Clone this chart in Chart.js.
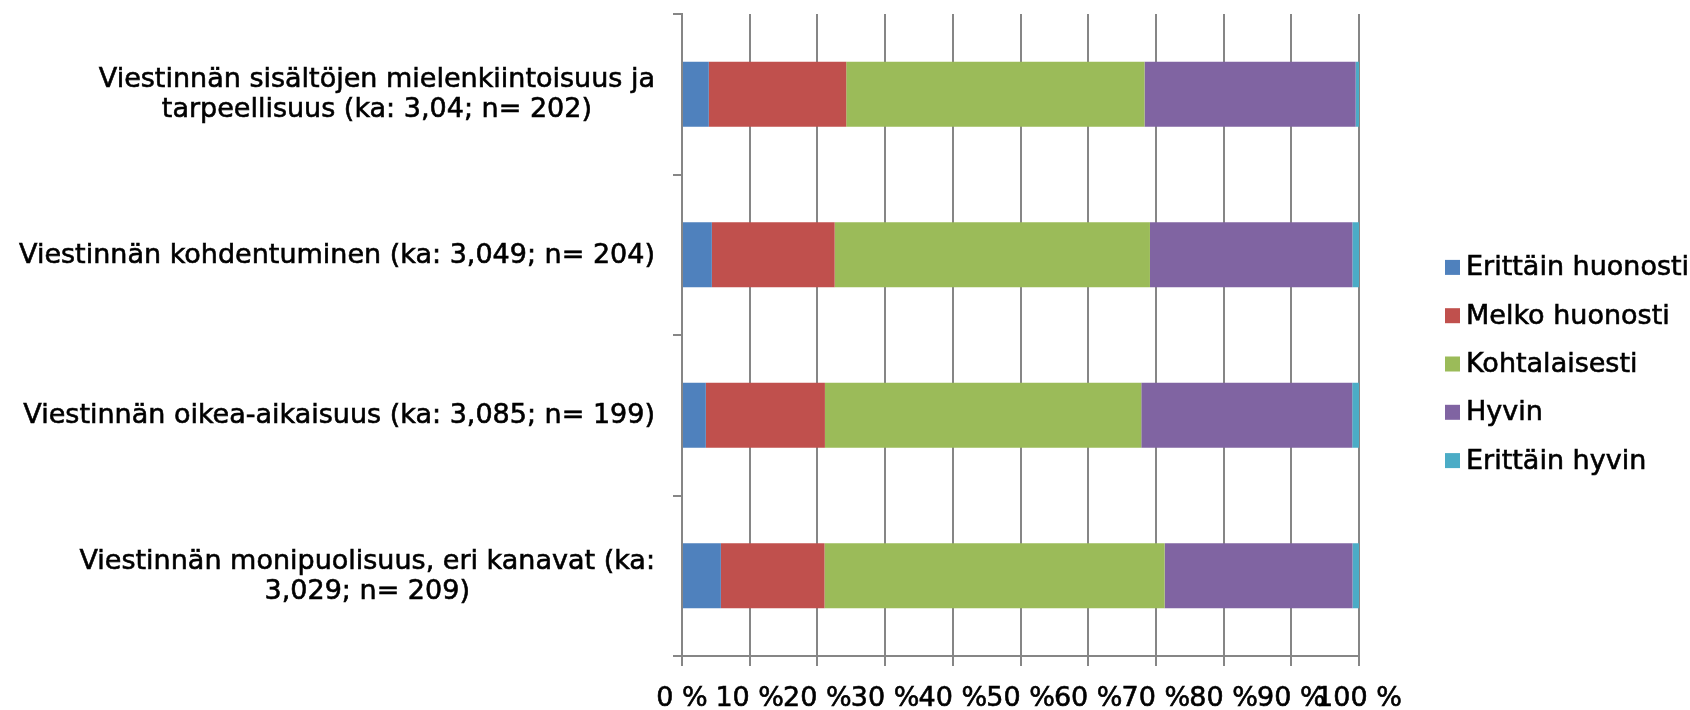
<!DOCTYPE html>
<html>
<head>
<meta charset="utf-8">
<script src="https://cdn.jsdelivr.net/npm/chart.js@4.4.0/dist/chart.umd.min.js"></script>
<style>
  html, body { margin: 0; padding: 0; background: #ffffff; }
  #wrap { width: 1690px; height: 710px; position: relative; }
</style>
</head>
<body>
<div id="wrap"><canvas id="c" width="1690" height="710"></canvas></div>
<script>
// ---- data ----
const categories = [
  ['Viestinnän sisältöjen mielenkiintoisuus ja', 'tarpeellisuus (ka: 3,04; n= 202)'],
  ['Viestinnän kohdentuminen (ka: 3,049; n= 204)'],
  ['Viestinnän oikea-aikaisuus (ka: 3,085; n= 199)'],
  ['Viestinnän monipuolisuus, eri kanavat (ka:', '3,029; n= 209)']
];
const seriesNames = ['Erittäin huonosti', 'Melko huonosti', 'Kohtalaisesti', 'Hyvin', 'Erittäin hyvin'];
const erittainHuonosti = [3.96, 4.41, 3.52, 5.74];
const melkoHuonosti    = [20.30, 18.14, 17.59, 15.31];
const kohtalaisesti    = [44.06, 46.57, 46.73, 50.24];
const hyvin            = [31.19, 29.90, 31.16, 27.75];
const erittainHyvin    = [0.49, 0.98, 1.00, 0.96];
const xTickLabels = ['0 %', '10 %', '20 %', '30 %', '40 %', '50 %', '60 %', '70 %', '80 %', '90 %', '100 %'];
const seriesColors = ['#4F81BD', '#C0504D', '#9BBB59', '#8064A2', '#4BACC6'];

const seriesValues = [erittainHuonosti, melkoHuonosti, kohtalaisesti, hyvin, erittainHyvin];
const FONT_FAMILY = '"DejaVu Sans", Verdana, sans-serif';
const FONT_SIZE = 27;
const TEXT_STROKE = 0.6;
const GRID = '#868686';

function drawText(ctx, txt, x, y) {
  ctx.fillText(txt, x, y);
  ctx.strokeText(txt, x, y);
}

// Category labels: block right-aligned, lines centred within block (Excel style)
const categoryLabelPlugin = {
  id: 'categoryLabels',
  afterDraw(chart) {
    const ys = chart.scales.y;
    const ctx = chart.ctx;
    ctx.save();
    ctx.font = FONT_SIZE + 'px ' + FONT_FAMILY;
    ctx.fillStyle = '#000';
    ctx.strokeStyle = '#000';
    ctx.lineWidth = TEXT_STROKE;
    ctx.textAlign = 'center';
    ctx.textBaseline = 'middle';
    const right = ys.right - 27;
    chart.data.labels.forEach((lines, i) => {
      const yc = ys.getPixelForTick(i) + 1;
      const w = Math.max(...lines.map(l => ctx.measureText(l).width));
      const cx = right - w / 2;
      lines.forEach((l, j) => {
        drawText(ctx, l, cx, yc + (j - (lines.length - 1) / 2) * 30);
      });
    });
    ctx.restore();
  }
};

// Legend to the right of the plot, Excel style
const sideLegendPlugin = {
  id: 'sideLegend',
  afterDraw(chart) {
    const ctx = chart.ctx;
    const area = chart.chartArea;
    ctx.save();
    ctx.font = FONT_SIZE + 'px ' + FONT_FAMILY;
    ctx.textAlign = 'left';
    ctx.textBaseline = 'middle';
    ctx.strokeStyle = '#000';
    ctx.lineWidth = TEXT_STROKE;
    const x0 = area.right + 86;
    const rowH = 48.3;
    const yMid = (area.top + area.bottom) / 2 + 29;
    const n = chart.data.datasets.length;
    chart.data.datasets.forEach((ds, i) => {
      const y = yMid + (i - (n - 1) / 2) * rowH;
      ctx.fillStyle = ds.backgroundColor;
      ctx.fillRect(x0, y - 7.5, 15, 15);
      ctx.fillStyle = '#000';
      drawText(ctx, ds.label, x0 + 21, y + 1);
    });
    ctx.restore();
  }
};

const datasets = seriesNames.map((name, i) => ({
  label: name,
  data: seriesValues[i],
  backgroundColor: seriesColors[i],
  borderWidth: 0,
  categoryPercentage: 1.0,
  barPercentage: 0.405
}));

new Chart(document.getElementById('c'), {
  type: 'bar',
  data: { labels: categories, datasets },
  plugins: [categoryLabelPlugin, sideLegendPlugin],
  options: {
    indexAxis: 'y',
    responsive: false,
    animation: false,
    devicePixelRatio: 1,
    layout: { padding: { left: 0, right: 331, top: 14, bottom: 0 } },
    plugins: {
      legend: { display: false },
      tooltip: { enabled: false }
    },
    scales: {
      x: {
        stacked: true,
        min: 0,
        max: 100,
        position: 'bottom',
        ticks: {
          stepSize: 10,
          autoSkip: false,
          maxRotation: 0,
          minRotation: 0,
          color: '#000',
          textStrokeColor: '#000',
          textStrokeWidth: TEXT_STROKE,
          padding: 17,
          font: { family: FONT_FAMILY, size: FONT_SIZE },
          callback: (v, i) => xTickLabels[i]
        },
        grid: { color: GRID, lineWidth: 2, tickLength: 10, drawTicks: true },
        border: { color: GRID, width: 2 },
        afterFit: s => { s.height = 54; }
      },
      y: {
        stacked: true,
        ticks: { display: false },
        grid: { offset: true, drawOnChartArea: false, drawTicks: true, tickLength: 9, color: GRID, lineWidth: 2 },
        border: { color: GRID, width: 2 },
        afterFit: s => { s.width = 682; }
      }
    }
  }
});
</script>
</body>
</html>
